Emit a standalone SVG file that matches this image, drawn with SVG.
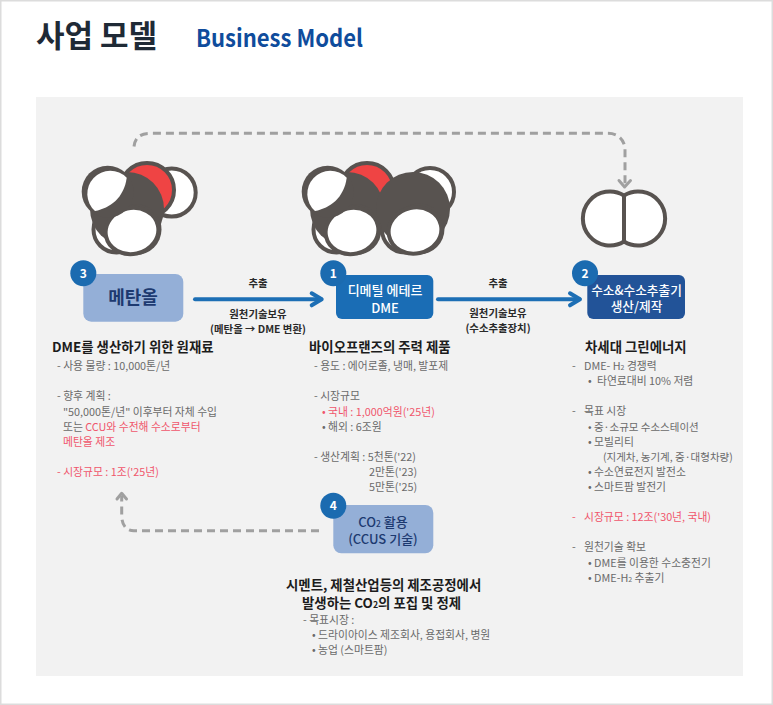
<svg xmlns="http://www.w3.org/2000/svg" width="773" height="705" viewBox="0 0 773 705">
<style>
text{font-family:"Noto Sans CJK KR","Noto Sans",sans-serif;}
.h{font-size:13.4px;font-weight:700;fill:#1c1c1c;}
.b{font-size:10.8px;font-weight:400;fill:#6a6a6a;}
.nar{font-size:10.5px;}
.r{fill:#f0566c;}
.l{font-size:10.4px;font-weight:700;fill:#2a2a2a;text-anchor:middle;}
.n{font-size:12px;font-weight:700;fill:#fff;text-anchor:middle;}
.w{font-size:13px;font-weight:500;fill:#fff;text-anchor:middle;}
.w2{font-size:12.7px;}
.d{font-size:13px;font-weight:500;fill:#1d3a70;text-anchor:middle;}
.badge{fill:#1b6bb0;}
.lt{fill:#94afd7;}
.sub{font-size:65%;}
.dk{fill:#585350;}
.ol{stroke:#585350;stroke-width:4;}
.wh{fill:#fff;}
.flow{fill:none;stroke:#1d6fb5;stroke-width:4;stroke-linecap:round;stroke-linejoin:round;}
.dash{fill:none;stroke:#a0a0a0;stroke-width:3;stroke-dasharray:8 5;}
.head{fill:none;stroke:#a0a0a0;stroke-width:3;stroke-linecap:round;stroke-linejoin:round;}
</style>
<defs>
<g id="halfH">
<circle cx="107.7" cy="191.7" r="26" class="dk"/>
<path class="wh" d="M126.7 177.7A23 23 0 1 0 95 211C110 208 124 198 126.7 177.7Z"/>
</g>
<g id="frontH">
<circle cx="136" cy="229.5" r="25.5" class="dk"/>
<ellipse cx="132" cy="231" rx="26.5" ry="23" class="wh ol" transform="rotate(-12 132 231)"/>
</g>
</defs>
<rect width="773" height="705" fill="#fff"/>
<rect x="0.75" y="0.75" width="771.5" height="703.5" fill="none" stroke="#dcdcdc" stroke-width="1.5"/>
<rect x="36" y="97" width="707" height="579" fill="#f2f2f2"/>
<g id="title">
<text x="36" y="47" style="font-size:31px;font-weight:700;fill:#1f2a36">사업 모델</text>
<text x="196" y="47" style="font-size:24px;font-weight:700;fill:#0f4c9c" textLength="167" lengthAdjust="spacingAndGlyphs">Business Model</text>
</g>
<g id="connectors">
<path class="flow" d="M195 299.3H321"/><path class="flow" d="M311.7 293.3L321.7 299.3L311.7 305.3"/>
<path class="flow" d="M438 299.3H579"/><path class="flow" d="M570 293.3L580 299.3L570 305.3"/>
<path class="dash" d="M134 146.5C135 138 140 133.3 150 133.3H608C618 133.3 625 140 625 150V185"/>
<path class="head" d="M619 180.5L624.6 187L630.5 180.5"/>
<path class="dash" d="M319 530.7H134C126 530.7 122 525 121.7 516V496"/>
<path class="head" d="M117 499L121.7 493.3L126.5 499"/>
<text class="l" x="258" y="287">추출</text>
<text class="l" x="258" y="317.5">원천기술보유</text>
<text class="l" x="258" y="332.5">(메탄올 → DME 변환)</text>
<text class="l" x="498" y="287">추출</text>
<text class="l" x="498" y="316.5">원천기술보유</text>
<text class="l" x="498" y="331.5">(수소추출장치)</text>
</g>
<g id="mol-methanol">
<circle cx="171.7" cy="192.5" r="24" class="wh ol"/>
<circle cx="147" cy="190" r="27" fill="#ef4444" class="ol"/>
<circle cx="116.5" cy="229.5" r="23" class="wh ol"/>
<circle cx="127" cy="209" r="37" class="dk"/>
<use href="#frontH"/>
<use href="#halfH"/>
</g>
<g id="mol-dme">
<circle cx="430" cy="192" r="24" class="wh ol"/>
<circle cx="367" cy="190" r="27" fill="#ef4444" class="ol"/>
<circle cx="336.5" cy="229.5" r="23" class="wh ol"/>
<circle cx="347" cy="209" r="37" class="dk"/>
<circle cx="405" cy="229.5" r="23" class="wh ol"/>
<circle cx="413" cy="209" r="37" class="dk"/>
<g transform="translate(283 -0.5)"><use href="#frontH"/></g>
<use href="#frontH" x="220"/>
<use href="#halfH" x="220"/>
</g>
<g id="mol-h2">
<path class="wh ol" d="M624 195.5A27 27 0 1 0 624 241.5A27 27 0 1 0 624 195.5Z"/>
<path class="ol" d="M624 195.5V241.5"/>
</g>
<g id="node-3">
<rect x="83.3" y="274" width="100" height="47.7" rx="8" class="lt"/>
<circle cx="83.3" cy="273.3" r="13" class="badge"/>
<text class="n" x="83.3" y="277.5">3</text>
<text x="133" y="304" style="font-size:18px;font-weight:700;fill:#1d3a70;text-anchor:middle">메탄올</text>
</g>
<g id="node-1">
<rect x="336" y="275" width="97.3" height="44" rx="6" fill="#1a6db5"/>
<circle cx="333.3" cy="273.3" r="13" class="badge"/>
<text class="n" x="333.3" y="277.5">1</text>
<text class="w" x="385" y="295">디메틸 에테르</text>
<text class="w" x="385" y="313">DME</text>
</g>
<g id="node-2">
<rect x="587.3" y="275" width="97.7" height="44" rx="6" fill="#225398"/>
<circle cx="585" cy="273.3" r="13" class="badge"/>
<text class="n" x="585" y="277.5">2</text>
<text class="w w2" x="636.5" y="295">수소&amp;수소추출기</text>
<text class="w w2" x="636.5" y="311">생산/제작</text>
</g>
<g id="node-4">
<rect x="333.3" y="505" width="100" height="48.3" rx="8" class="lt"/>
<circle cx="333.3" cy="505.7" r="13" class="badge"/>
<text class="n" x="333.3" y="510">4</text>
<text class="d" x="383" y="527">CO<tspan class="sub">2</tspan> 활용</text>
<text class="d" x="383" y="544">(CCUS 기술)</text>
</g>
<g id="text-methanol">
<text class="h" x="52" y="352.3">DME를 생산하기 위한 원재료</text>
<text class="b" x="57" y="370">- 사용 물량 : 10,000톤/년</text>
<text class="b" x="57" y="400">- 향후 계획 :</text>
<text class="b" x="63" y="415.5">"50,000톤/년" 이후부터 자체 수입</text>
<text class="b" x="63" y="430.5">또는 <tspan class="r">CCU와 수전해 수소로부터</tspan></text>
<text class="b r" x="63" y="445.5">메탄올 제조</text>
<text class="b r" x="57" y="475.5">- 시장규모 : 1조('25년)</text>
</g>
<g id="text-dme">
<text class="h" x="309" y="352.3">바이오프랜즈의 주력 제품</text>
<text class="b" x="314" y="370">- 용도 : 에어로졸, 냉매, 발포제</text>
<text class="b" x="314" y="400">- 시장규모</text>
<text class="b r" x="322" y="415.5">• 국내 : 1,000억원('25년)</text>
<text class="b" x="322" y="430.5">• 해외 : 6조원</text>
<text class="b" x="314" y="461">- 생산계획 : 5천톤('22)</text>
<text class="b" x="369" y="476">2만톤('23)</text>
<text class="b" x="369" y="491">5만톤('25)</text>
</g>
<g id="text-co2">
<text class="h" x="286" y="590">시멘트, 제철산업등의 제조공정에서</text>
<text class="h" x="302" y="608">발생하는 CO<tspan class="sub">2</tspan>의 포집 및 정제</text>
<text class="b" x="303" y="623.5">- 목표시장 :</text>
<text class="b" x="312" y="639">• 드라이아이스 제조회사, 용접회사, 병원</text>
<text class="b" x="312" y="654">• 농업 (스마트팜)</text>
</g>
<g id="text-h2">
<text class="h" x="585" y="352.3">차세대 그린에너지</text>
<text class="b" x="572" y="370">-</text><text class="b" x="584" y="370">DME- H<tspan class="sub">2</tspan> 경쟁력</text>
<text class="b" x="588" y="385">•</text><text class="b" x="597" y="385">타연료대비 10% 저렴</text>
<text class="b" x="572" y="415">-</text><text class="b" x="584" y="415">목표 시장</text>
<text class="b nar" x="588" y="431">• 중·소규모 수소스테이션</text>
<text class="b" x="588" y="446">• 모빌리티</text>
<text class="b nar" x="603" y="461">(지게차, 농기계, 중·대형차량)</text>
<text class="b" x="588" y="476">• 수소연료전지 발전소</text>
<text class="b" x="588" y="491">• 스마트팜 발전기</text>
<text class="b r" x="572" y="521">-</text><text class="b r" x="584" y="521">시장규모 : 12조('30년, 국내)</text>
<text class="b" x="572" y="551">-</text><text class="b" x="584" y="551">원천기술 확보</text>
<text class="b" x="588" y="567">• DME를 이용한 수소충전기</text>
<text class="b" x="588" y="582">• DME-H<tspan class="sub">2</tspan> 추출기</text>
</g>
</svg>
